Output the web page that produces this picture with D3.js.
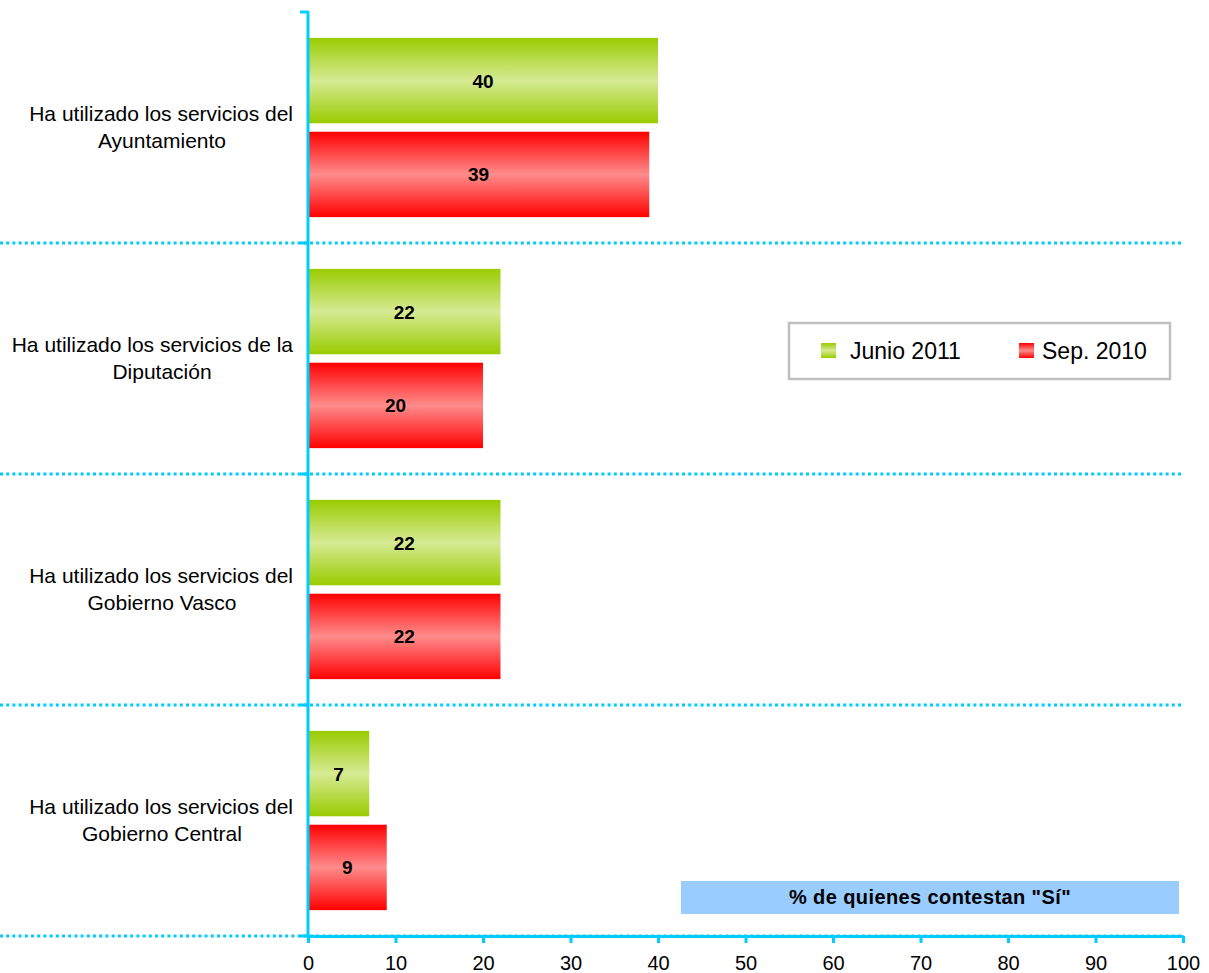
<!DOCTYPE html>
<html>
<head>
<meta charset="utf-8">
<script src="https://cdn.jsdelivr.net/npm/d3@7"></script>
<style>
  body { margin: 0; background: #ffffff; }
  svg { display: block; font-family: Arial, "Liberation Sans", sans-serif; }
</style>
</head>
<body>
<svg id="chart" width="1209" height="973"></svg>
<script>
// ---- data ----
const categories = [
  ["Ha utilizado los servicios del", "Ayuntamiento"],
  ["Ha utilizado los servicios de la", "Diputación"],
  ["Ha utilizado los servicios del", "Gobierno Vasco"],
  ["Ha utilizado los servicios del", "Gobierno Central"]
];
const seriesNames = ["Junio 2011", "Sep. 2010"];
const junio2011 = [40, 22, 22, 7];
const sep2010 = [39, 20, 22, 9];
const xTicks = [0, 10, 20, 30, 40, 50, 60, 70, 80, 90, 100];
const axisTitle = '% de quienes contestan "Sí"';

// ---- layout ----
const svg = d3.select("#chart");
const axisColor = "#00CCFF";
const x = d3.scaleLinear().domain([0, 100]).range([308, 1183]);
const catIdx = d3.range(categories.length);
const y = d3.scaleBand().domain(catIdx).range([12, 936]).paddingInner(0.224).paddingOuter(0.112);
const ySub = d3.scaleBand().domain([0, 1]).range([0, y.bandwidth()]).paddingInner(0.09);

const defs = svg.append("defs");
function grad(id, edge, mid) {
  const g = defs.append("linearGradient").attr("id", id)
    .attr("x1", 0).attr("y1", 0).attr("x2", 0).attr("y2", 1);
  g.append("stop").attr("offset", "0%").attr("stop-color", edge);
  g.append("stop").attr("offset", "50%").attr("stop-color", mid);
  g.append("stop").attr("offset", "100%").attr("stop-color", edge);
}
grad("gGreen", "#99CC00", "#D6EA94");
grad("gRed", "#FF0000", "#FF8C8C");
const fills = ["url(#gGreen)", "url(#gRed)"];
const seriesValues = [junio2011, sep2010];

// separators (dotted)
const step = y.step();
const bounds = d3.range(1, categories.length + 1).map(k => 12 + step * k);
svg.append("g").selectAll("line").data(bounds).join("line")
  .attr("x1", 0).attr("x2", 1183)
  .attr("y1", d => d).attr("y2", d => d)
  .attr("stroke", axisColor).attr("stroke-width", 3)
  .attr("stroke-dasharray", "3,3.2");

// bars
const gBars = svg.append("g");
seriesValues.forEach((vals, s) => {
  gBars.selectAll(null).data(vals).join("rect")
    .attr("x", x(0))
    .attr("y", (d, i) => y(i) + ySub(s))
    .attr("width", d => x(d) - x(0))
    .attr("height", ySub.bandwidth())
    .attr("fill", fills[s]);
  gBars.selectAll(null).data(vals).join("text")
    .attr("x", d => (x(d) + x(0)) / 2)
    .attr("y", (d, i) => y(i) + ySub(s) + ySub.bandwidth() / 2 + 7)
    .attr("text-anchor", "middle")
    .attr("font-size", 19).attr("font-weight", "bold").attr("fill", "#000")
    .text(d => d);
});

// category labels
const gCat = svg.append("g");
categories.forEach((lines, i) => {
  const cy = 12 + step * i + step / 2;
  lines.forEach((ln, j) => {
    const t = gCat.append("text").attr("text-anchor", "middle")
      .attr("font-size", 21).attr("fill", "#000")
      .attr("x", 162)
      .attr("y", cy + (j - (lines.length - 1) / 2) * 27 + 7)
      .text(ln);
    const w = t.node().getComputedTextLength();
    if (162 + w / 2 > 293) t.attr("x", 293 - w / 2);
  });
});

// y axis line + ticks
const yTickPos = [12].concat(bounds);
svg.append("line").attr("x1", 308).attr("x2", 308).attr("y1", 11).attr("y2", 937)
  .attr("stroke", axisColor).attr("stroke-width", 3);
svg.append("g").selectAll("line").data(yTickPos).join("line")
  .attr("x1", 300).attr("x2", 308).attr("y1", d => d).attr("y2", d => d)
  .attr("stroke", axisColor).attr("stroke-width", 3);

// x axis
const xAxis = d3.axisBottom(x).tickValues(xTicks).tickSize(7).tickSizeOuter(0).tickPadding(13);
const gx = svg.append("g").attr("transform", "translate(0,936)").call(xAxis);
gx.select(".domain").attr("stroke", axisColor).attr("stroke-width", 3);
gx.selectAll(".tick line").attr("stroke", axisColor).attr("stroke-width", 3);
gx.selectAll(".tick text").attr("font-size", 20).attr("fill", "#000")
  .attr("font-family", "Arial, 'Liberation Sans', sans-serif");

// axis title box
svg.append("rect").attr("x", 681).attr("y", 881).attr("width", 498).attr("height", 33)
  .attr("fill", "#99CCFF");
svg.append("text").attr("x", 930).attr("y", 904).attr("text-anchor", "middle")
  .attr("font-size", 20).attr("font-weight", "bold").attr("fill", "#000")
  .attr("letter-spacing", 0.4)
  .text(axisTitle);

// legend
const lg = svg.append("g");
lg.append("rect").attr("x", 789).attr("y", 323).attr("width", 381).attr("height", 56)
  .attr("fill", "#fff").attr("stroke", "#BFBFBF").attr("stroke-width", 2.5);
const legX = [821, 1019];
const legTX = [850, 1042];
seriesNames.forEach((n, s) => {
  lg.append("rect").attr("x", legX[s]).attr("y", 343).attr("width", 15).attr("height", 15)
    .attr("fill", fills[s]);
  lg.append("text").attr("x", legTX[s]).attr("y", 359).attr("font-size", 23).attr("fill", "#000")
    .text(n);
});
</script>
</body>
</html>
